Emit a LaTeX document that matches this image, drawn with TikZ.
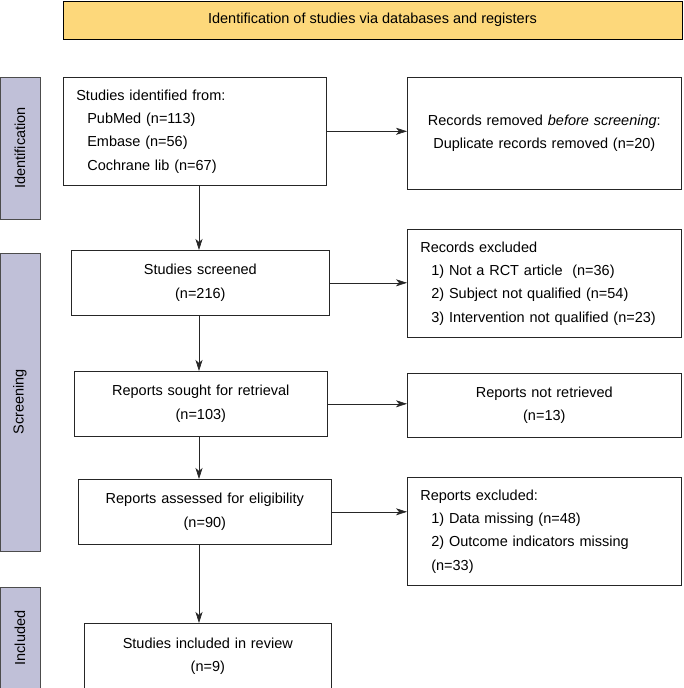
\documentclass[tikz,border=0pt]{standalone}
\usepackage{fontspec}
\setmainfont{Liberation Sans}
\usetikzlibrary{arrows.meta}
\definecolor{headyellow}{HTML}{FDD87B}
\definecolor{sidelilac}{HTML}{C0C0D8}
\newcommand{\listind}{\hspace*{11pt}}
\tikzset{
  stage/.style={draw=black!85, line width=0.6pt, anchor=north west,
    inner xsep=13pt, inner ysep=0pt,
    font=\fontsize{14.5}{23.3}\selectfont},
  sidebar/.style={draw=black!70, fill=sidelilac, line width=0.6pt,
    rotate=90, inner sep=0pt, minimum height=40pt,
    font=\fontsize{14.5}{17}\selectfont},
  flow/.style={-{Stealth[length=11pt,width=7pt,inset=3pt]},
    draw=black!85, line width=0.6pt},
}
\begin{document}
\begin{tikzpicture}[x=1pt, y=-1pt]
    \pgfmathsetmacro{\rx}{407}
    \pgfmathsetmacro{\rw}{274}
    \pgfmathsetmacro{\spinex}{199}
    \useasboundingbox (0,0) rectangle (683,688);
    \coordinate (spine) at (\spinex, 0);

    \node[draw=black, fill=headyellow, line width=1pt, minimum width=619pt,
          minimum height=38pt, inner sep=0pt,
          font=\fontsize{14.5}{17}\selectfont] (head) at (372.5, 20)
         {Identification of studies via databases and registers};

    \node[sidebar, minimum width=142pt] (sideid) at (20, 148) {Identification};
    \node[sidebar, minimum width=298pt] (sidescr) at (20, 402) {Screening};
    \node[sidebar, minimum width=102pt] (sideinc) at (20, 638) {Included};

    \node[stage, text width=263pt-26pt, minimum height=108pt, align=left]
         (ident) at (63, 77)
         {Studies identified from:\\
          \listind PubMed (n=113)\\
          \listind Embase (n=56)\\
          \listind Cochrane lib (n=67)};
    \node[stage, text width=\rw pt-26pt, minimum height=112pt, align=center]
         (removed) at (\rx, 77)
         {Records removed \textit{before screening}:\\
          Duplicate records removed (n=20)};

    \node[stage, text width=258pt-26pt, minimum height=65pt, align=center]
         (screened) at (71, 250) {Studies screened\\(n=216)};
    \node[stage, text width=\rw pt-26pt, minimum height=108pt, align=left]
         (recexcl) at (\rx, 229)
         {Records excluded\\
          \listind 1) Not a RCT article~ (n=36)\\
          \listind 2) Subject not qualified (n=54)\\
          \listind 3) Intervention not qualified (n=23)};

    \node[stage, text width=253pt-26pt, minimum height=65pt, align=center]
         (sought) at (74, 371) {Reports sought for retrieval\\(n=103)};
    \node[stage, text width=\rw pt-26pt, minimum height=64pt, align=center]
         (notret) at (\rx, 373) {Reports not retrieved\\(n=13)};

    \node[stage, text width=253pt-26pt, minimum height=65pt, align=center]
         (assessed) at (78, 479) {Reports assessed for eligibility\\(n=90)};
    \node[stage, text width=\rw pt-26pt, minimum height=108pt, align=left]
         (repexcl) at (\rx, 477)
         {Reports excluded:\\
          \listind 1) Data missing (n=48)\\
          \listind 2) Outcome indicators missing\\
          \listind (n=33)};

    \node[stage, text width=247pt-26pt, minimum height=66pt, align=center]
         (included) at (84, 623) {Studies included in review\\(n=9)};

    \draw[flow] (ident.east) -- (ident.east -| removed.west);
    \draw[flow] (screened.east) -- (screened.east -| recexcl.west);
    \draw[flow] (sought.east) -- (sought.east -| notret.west);
    \draw[flow] (assessed.east) -- (assessed.east -| repexcl.west);

    \draw[flow] (ident.south -| spine) -- (screened.north -| spine);
    \draw[flow] (screened.south -| spine) -- (sought.north -| spine);
    \draw[flow] (sought.south -| spine) -- (assessed.north -| spine);
    \draw[flow] (assessed.south -| spine) -- (included.north -| spine);
  \end{tikzpicture}
\end{document}
